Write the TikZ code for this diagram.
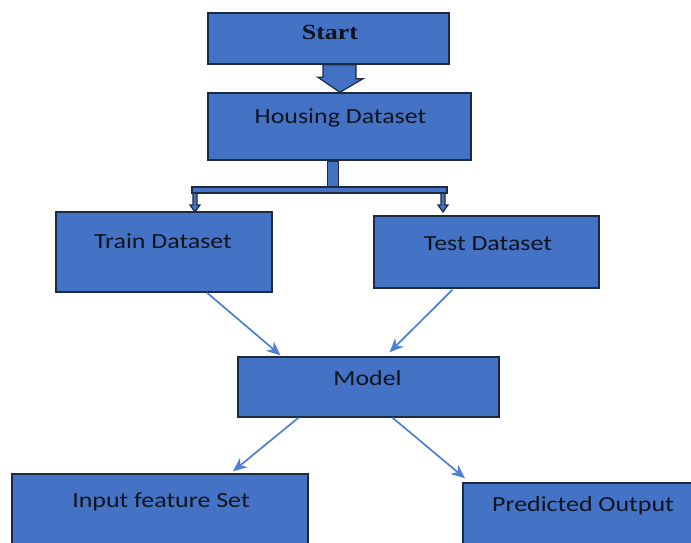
\documentclass[tikz,border=0pt]{standalone}
\usepackage{fontspec}
\setmainfont{Carlito}[FakeStretch=1.2]
\newfontfamily\titlefont{Liberation Serif}[FakeStretch=1.2]
\usetikzlibrary{arrows.meta,calc}
\definecolor{boxblue}{HTML}{4472C4}
\definecolor{boxedge}{HTML}{1E2A40}
\definecolor{linkblue}{HTML}{4D7FD2}
\definecolor{inkdark}{HTML}{10141E}
\tikzset{
  box/.style={draw=boxedge, line width=1.4pt, fill=boxblue, rectangle, inner sep=0pt},
  lbl/.style={text=inkdark, font=\fontsize{21.6}{24}\selectfont, inner sep=0pt},
  link/.style={draw=linkblue, line width=1.7pt, -{Stealth[length=14pt,width=12pt]}},
  blockarrow/.style={draw=boxedge, line width=1.2pt, fill=boxblue, line join=miter}
}
\begin{document}
\begin{tikzpicture}[x=1pt,y=-1pt]
\useasboundingbox (0,0) rectangle (691,543);
\clip (0,0) rectangle (691,543);
\fill[white] (0,0) rectangle (691,543);

% boxes
\node[box, minimum width=241pt, minimum height=51pt] (start) at (328.5,38.5) {};
\node[box, minimum width=263pt, minimum height=67pt] (house) at (339.5,126.5) {};
\node[box, minimum width=216pt, minimum height=80pt] (train) at (164,252) {};
\node[box, minimum width=225pt, minimum height=72pt] (test) at (486.5,252) {};
\node[box, minimum width=261pt, minimum height=60pt] (model) at (368.5,387) {};
\node[box, minimum width=296pt, minimum height=90pt] (input) at (160,519) {};
\node[box, minimum width=260pt, minimum height=80pt] (pred) at (593,523) {};

% labels
\node[lbl, font=\titlefont\bfseries\fontsize{21.6}{24}\selectfont] (tstart) at ($(start.north)+(1.5,20)$) {Start};
\node[lbl] (thouse) at ($(house.north)+(1,26)$) {Housing Dataset};
\node[lbl] (ttrain) at ($(train.north)+(-1,30)$) {Train Dataset};
\node[lbl] (ttest) at ($(test.north)+(1.5,28)$) {Test Dataset};
\node[lbl] (tmodel) at ($(model.north)+(-1,22)$) {Model};
\node[lbl] (tinput) at ($(input.north)+(1,29)$) {Input feature Set};
\node[lbl] (tpred) at ($(pred.north)+(-10,23)$) {Predicted Output};

% block arrow from Start down to Housing Dataset
\draw[blockarrow]
  ($(start.south)+(-5.5,0)$) -- ++(33,0) -- ++(0,14) -- ++(7,0)
  -- ($(house.north)+(0.5,0)$) -- ++(-22,-15) -- ++(5,0) -- cycle;

% split connector from Housing Dataset to both datasets
\coordinate (stemtop) at ($(house.south)+(-12,1)$);
\draw[blockarrow] (stemtop) rectangle ++(11,26);
\draw[blockarrow] (192,187) rectangle (447,193);
\foreach \cx/\tgt in {195/train, 443/test}{
  \draw[blockarrow]
    (\cx-2,193) -- (\cx+2,193) -- (\cx+2,205) -- (\cx+5,205)
    -- (\cx,212) -- (\cx-5,205) -- (\cx-2,205) -- cycle;
}

% links into and out of the model
\draw[link] ($(train.south)+(43,0)$) -- ($(model.north)+(-88,-1)$);
\draw[link] ($(test.south)+(-34,1)$) -- ($(model.north)+(21,-4)$);
\draw[link] ($(model.south)+(-70,0)$) -- ($(input.north)+(73,-2)$);
\draw[link] ($(model.south)+(24,0)$) -- ($(pred.north)+(-128,-4)$);
\end{tikzpicture}
\end{document}
